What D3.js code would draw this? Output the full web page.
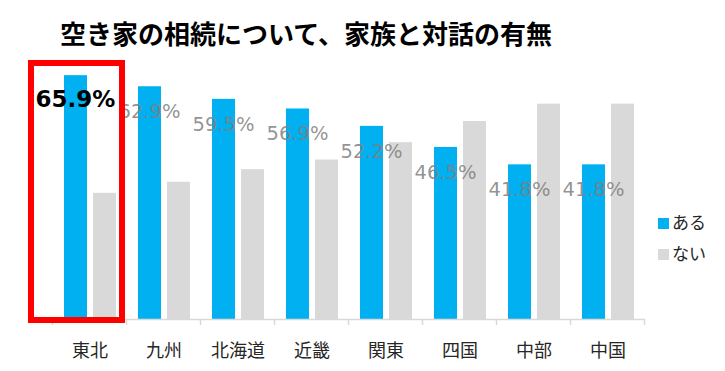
<!DOCTYPE html>
<html>
<head>
<meta charset="utf-8">
<script src="https://cdn.jsdelivr.net/npm/d3@7"></script>
<style>
  body { margin: 0; background: #fff; }
  svg { display: block; }
</style>
</head>
<body>
<div id="chart"></div>
<script>
var w = 725,
  h = 371;

// data
var regions = ['東北', '九州', '北海道', '近畿', '関東', '四国', '中部', '中国'];
var series = ['ある', 'ない'];
var aru = [65.9, 62.9, 59.5, 56.9, 52.2, 46.5, 41.8, 41.8];
var nai = [34.1, 37.1, 40.5, 43.1, 47.8, 53.5, 58.2, 58.2];
var colors = ['#00b0f0', '#d9d9d9'];

var svg = d3.select('#chart').append('svg')
  .attr('width', w)
  .attr('height', h);

// title
svg.append('text')
  .attr('x', 60)
  .attr('y', 44)
  .style('font-family', '"Noto Sans CJK JP", sans-serif')
  .style('font-weight', 'bold')
  .style('font-size', '26px')
  .attr('fill', '#000')
  .text('空き家の相続について、家族と対話の有無');

var x = d3.scaleBand()
  .domain(regions)
  .range([53, 645]);

var xs = d3.scaleBand()
  .domain(series)
  .range([0, x.bandwidth()])
  .paddingInner(0.207)
  .paddingOuter(0.379);

var y = d3.scaleLinear()
  .domain([0, 70])
  .range([319, 60]);

var rows = regions.map(function(r, i) {
  return { region: r, values: [aru[i], nai[i]] };
});

// bars
var groups = svg.selectAll('g.region')
  .data(rows)
  .enter().append('g')
  .attr('class', 'region')
  .attr('transform', function(d) { return 'translate(' + x(d.region) + ',0)'; });

groups.selectAll('rect')
  .data(function(d) { return d.values; })
  .enter().append('rect')
  .attr('x', function(d, i) { return xs(series[i]); })
  .attr('y', function(d) { return y(d); })
  .attr('width', xs.bandwidth())
  .attr('height', function(d) { return y(0) - y(d); })
  .attr('fill', function(d, i) { return colors[i]; });

// axis line with ticks at category boundaries
svg.append('line')
  .attr('x1', x.range()[0])
  .attr('x2', x.range()[1])
  .attr('y1', 319.5)
  .attr('y2', 319.5)
  .attr('stroke', '#d9d9d9')
  .attr('stroke-width', 1.5);

var bounds = regions.map(function(r) { return x(r); }).concat([x.range()[1]]);
svg.selectAll('line.tick')
  .data(bounds)
  .enter().append('line')
  .attr('class', 'tick')
  .attr('x1', function(d) { return d - 0.5; })
  .attr('x2', function(d) { return d - 0.5; })
  .attr('y1', 319)
  .attr('y2', 325)
  .attr('stroke', '#d9d9d9')
  .attr('stroke-width', 1.5);

// category labels
svg.selectAll('text.cat')
  .data(regions)
  .enter().append('text')
  .attr('class', 'cat')
  .attr('x', function(d) { return x(d) + x.bandwidth() / 2; })
  .attr('y', 357)
  .attr('text-anchor', 'middle')
  .style('font-family', '"Noto Sans CJK JP", sans-serif')
  .style('font-size', '18px')
  .attr('fill', '#262626')
  .text(function(d) { return d; });

// value labels on the blue bars
svg.selectAll('text.val')
  .data(rows)
  .enter().append('text')
  .attr('class', 'val')
  .attr('x', function(d) { return x(d.region) + xs(series[0]) + xs.bandwidth() / 2; })
  .attr('y', function(d) { return y(d.values[0]) + 32; })
  .attr('text-anchor', 'middle')
  .style('font-family', '"DejaVu Sans", Verdana, sans-serif')
  .style('font-size', function(d, i) { return i === 0 ? '23px' : '19.5px'; })
  .style('font-weight', function(d, i) { return i === 0 ? 'bold' : 'normal'; })
  .attr('fill', function(d, i) { return i === 0 ? '#000' : '#7f7f7f'; })
  .attr('fill-opacity', function(d, i) { return i === 0 ? 1 : 0.85; })
  .text(function(d) { return d.values[0].toFixed(1) + '%'; });

// highlight box round the first region
svg.append('rect')
  .attr('x', 31)
  .attr('y', 63)
  .attr('width', 91)
  .attr('height', 257)
  .attr('fill', 'none')
  .attr('stroke', '#ff0000')
  .attr('stroke-width', 6);

// legend
var legend = svg.selectAll('g.legend')
  .data(series)
  .enter().append('g')
  .attr('class', 'legend')
  .attr('transform', function(d, i) { return 'translate(658,' + (218 + i * 31) + ')'; });

legend.append('rect')
  .attr('width', 11)
  .attr('height', 11)
  .attr('fill', function(d, i) { return colors[i]; });

legend.append('text')
  .attr('x', 14)
  .attr('y', 11)
  .style('font-family', '"Noto Sans CJK JP", sans-serif')
  .style('font-size', '17px')
  .attr('fill', '#262626')
  .text(function(d) { return d; });
</script>
</body>
</html>
